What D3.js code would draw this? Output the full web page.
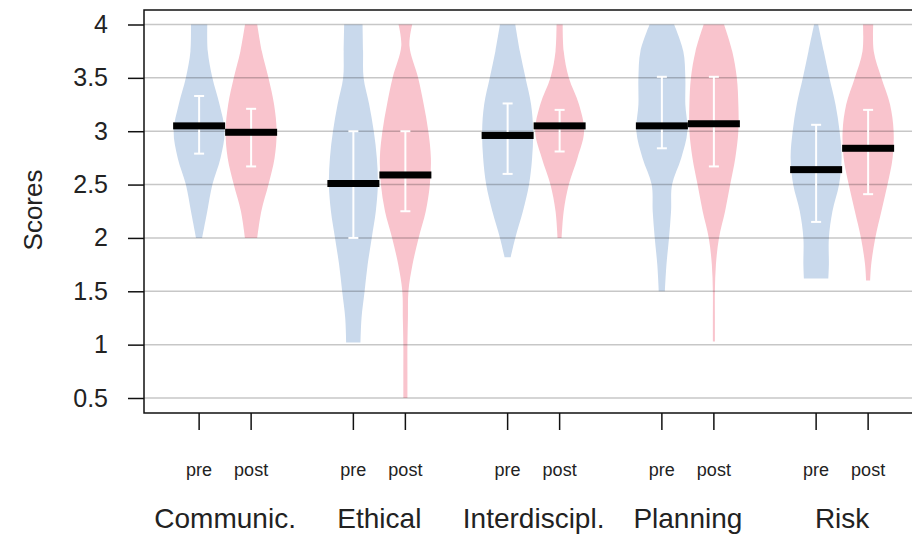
<!DOCTYPE html>
<html>
<head>
<meta charset="utf-8">
<script src="https://cdn.jsdelivr.net/npm/d3@7"></script>
<style>
body { margin: 0; background: #fff; }
text { font-family: "Liberation Sans", Arial, sans-serif; fill: #222; }
</style>
</head>
<body>
<div id="chart"></div>
<script>
width = 912
height = 534

// data
let categories = ["Communic.", "Ethical", "Interdiscipl.", "Planning", "Risk"]
let phases = ["pre", "post"]
let yTicks = [0.5, 1, 1.5, 2, 2.5, 3, 3.5, 4]

let medianPre = [3.05, 2.51, 2.96, 3.05, 2.64]
let medianPost = [2.99, 2.59, 3.05, 3.07, 2.84]

let errLowPre = [2.79, 2.0, 2.6, 2.84, 2.15]
let errHighPre = [3.33, 3.0, 3.26, 3.51, 3.06]
let errLowPost = [2.67, 2.25, 2.81, 2.67, 2.41]
let errHighPost = [3.21, 3.0, 3.2, 3.51, 3.2]

// violin outlines: [score, density] pairs
let densityPre = [
	[[4, 8], [3.75, 8.5], [3.5, 13], [3.25, 20], [3, 25], [2.75, 21], [2.5, 13], [2.25, 8], [2, 3]],
	[[4, 9], [3.75, 9.5], [3.5, 10], [3.25, 15.5], [3, 20], [2.75, 23], [2.5, 24], [2.25, 22], [2, 18], [1.75, 14], [1.5, 11], [1.25, 8], [1.02, 7]],
	[[4, 7.5], [3.75, 12], [3.5, 17.5], [3.25, 23], [3, 25], [2.75, 24], [2.5, 21], [2.25, 15], [2, 7.5], [1.82, 3]],
	[[4, 12], [3.75, 21], [3.5, 23], [3.25, 23], [3, 25], [2.75, 19], [2.5, 10], [2.25, 9], [2, 7], [1.75, 4.5], [1.5, 3]],
	[[4, 2], [3.75, 7.5], [3.5, 13], [3.25, 19], [3, 23], [2.75, 25], [2.5, 22.5], [2.25, 16], [2, 12.5], [1.75, 12.5], [1.62, 12]]
]
let densityPost = [
	[[4, 6], [3.75, 10.5], [3.5, 17], [3.25, 22.5], [3, 25], [2.75, 23], [2.5, 17], [2.25, 10], [2, 6]],
	[[4, 6.7], [3.8, 4], [3.5, 12.5], [3.25, 18], [3, 22.5], [2.75, 25], [2.5, 24], [2.25, 20], [2, 13], [1.75, 7], [1.5, 3], [1.25, 2.5], [1, 2], [0.75, 2], [0.5, 2]],
	[[4, 3], [3.75, 4], [3.5, 9], [3.25, 19], [3, 24], [2.75, 17.5], [2.5, 9], [2.25, 4], [2, 2]],
	[[4, 10], [3.75, 18], [3.5, 22.5], [3.25, 24], [3, 24], [2.75, 21], [2.5, 16], [2.25, 11], [2, 5], [1.75, 2], [1.5, 1], [1.25, 1], [1.03, 1]],
	[[4, 5], [3.75, 5.5], [3.5, 13], [3.25, 21.5], [3, 25], [2.75, 24], [2.5, 19], [2.25, 13], [2, 7], [1.75, 3], [1.6, 2]]
]

let colors = { pre: "#c9d9ec", post: "#f9c4cd" }

let plotLeft = 144, plotTop = 10, plotBottom = 413

let svg = d3.select("#chart")
.append("svg")
.attr("width", width)
.attr("height", height)

let y = d3.scaleLinear()
.domain([0.5, 4])
.range([398, 24.5])

let x = d3.scaleBand()
.domain(categories)
.range([148, 919.25])
.padding(0)

let xPhase = d3.scalePoint()
.domain(phases)
.range([-26, 26])

let w = d3.scaleLinear()
.domain([0, 25])
.range([0, 25.5])

function cx(cat, phase){
	return x(cat) + x.bandwidth() / 2 + xPhase(phase)
}

let violinData = []
categories.forEach((cat, i) => {
	violinData.push({ cat, phase: "pre", dens: densityPre[i], med: medianPre[i], lo: errLowPre[i], hi: errHighPre[i] })
	violinData.push({ cat, phase: "post", dens: densityPost[i], med: medianPost[i], lo: errLowPost[i], hi: errHighPost[i] })
})

// violins
svg.append("g")
.selectAll("path")
.data(violinData)
.join("path")
.attr("fill", d => colors[d.phase])
.attr("d", d => {
	let c = cx(d.cat, d.phase)
	return d3.area()
	.y(p => y(p[0]))
	.x0(p => c - w(p[1]))
	.x1(p => c + w(p[1]))
	.curve(d3.curveCatmullRom.alpha(0.5))(d.dens)
})

// grid lines on top, semi transparent
svg.append("g")
.selectAll("line")
.data(yTicks)
.join("line")
.attr("x1", plotLeft)
.attr("x2", width)
.attr("y1", d => y(d))
.attr("y2", d => y(d))
.attr("stroke", "#000")
.attr("stroke-opacity", 0.22)
.attr("stroke-width", 1.5)

// white interval bars
let eb = svg.append("g")
.attr("stroke", "#fff")
.attr("stroke-width", 2)

violinData.forEach(d => {
	let c = cx(d.cat, d.phase)
	eb.append("line").attr("x1", c).attr("x2", c).attr("y1", y(d.hi)).attr("y2", y(d.lo))
	eb.append("line").attr("x1", c - 5).attr("x2", c + 5).attr("y1", y(d.hi)).attr("y2", y(d.hi))
	eb.append("line").attr("x1", c - 5).attr("x2", c + 5).attr("y1", y(d.lo)).attr("y2", y(d.lo))
})

// medians
svg.append("g")
.selectAll("rect")
.data(violinData)
.join("rect")
.attr("x", d => cx(d.cat, d.phase) - 26)
.attr("width", 52)
.attr("y", d => y(d.med) - 3.5)
.attr("height", 7)
.attr("fill", "#000")

// frame
svg.append("path")
.attr("d", "M" + width + "," + plotTop + "H" + plotLeft + "V" + plotBottom + "H" + width)
.attr("fill", "none")
.attr("stroke", "#111")
.attr("stroke-width", 1.5)

// y axis
let yAxis = svg.append("g")
.attr("transform", "translate(" + plotLeft + ",0)")
.call(d3.axisLeft(y).tickValues(yTicks).tickSize(16).tickPadding(20).tickFormat(d3.format("")))

yAxis.select(".domain").remove()
yAxis.selectAll(".tick line").attr("stroke", "#111").attr("stroke-width", 1.5)
yAxis.selectAll(".tick text")
.attr("x", -36)
.attr("font-size", 25)
.attr("font-family", "Liberation Sans, Arial, sans-serif")
.attr("fill", "#222")

svg.append("text")
.attr("transform", "translate(42,210) rotate(-90)")
.attr("text-anchor", "middle")
.attr("font-size", 26)
.text("Scores")

// x ticks and labels
let ticks = []
categories.forEach(cat => phases.forEach(ph => ticks.push({ cat, ph })))

svg.append("g")
.selectAll("line")
.data(ticks)
.join("line")
.attr("x1", d => cx(d.cat, d.ph))
.attr("x2", d => cx(d.cat, d.ph))
.attr("y1", plotBottom)
.attr("y2", 430)
.attr("stroke", "#111")
.attr("stroke-width", 1.5)

svg.append("g")
.selectAll("text")
.data(ticks)
.join("text")
.attr("x", d => cx(d.cat, d.ph))
.attr("y", 476)
.attr("text-anchor", "middle")
.attr("font-size", 18)
.text(d => d.ph)

svg.append("g")
.selectAll("text")
.data(categories)
.join("text")
.attr("x", d => x(d) + x.bandwidth() / 2)
.attr("y", 528)
.attr("text-anchor", "middle")
.attr("font-size", 28)
.text(d => d)
</script>
</body>
</html>
